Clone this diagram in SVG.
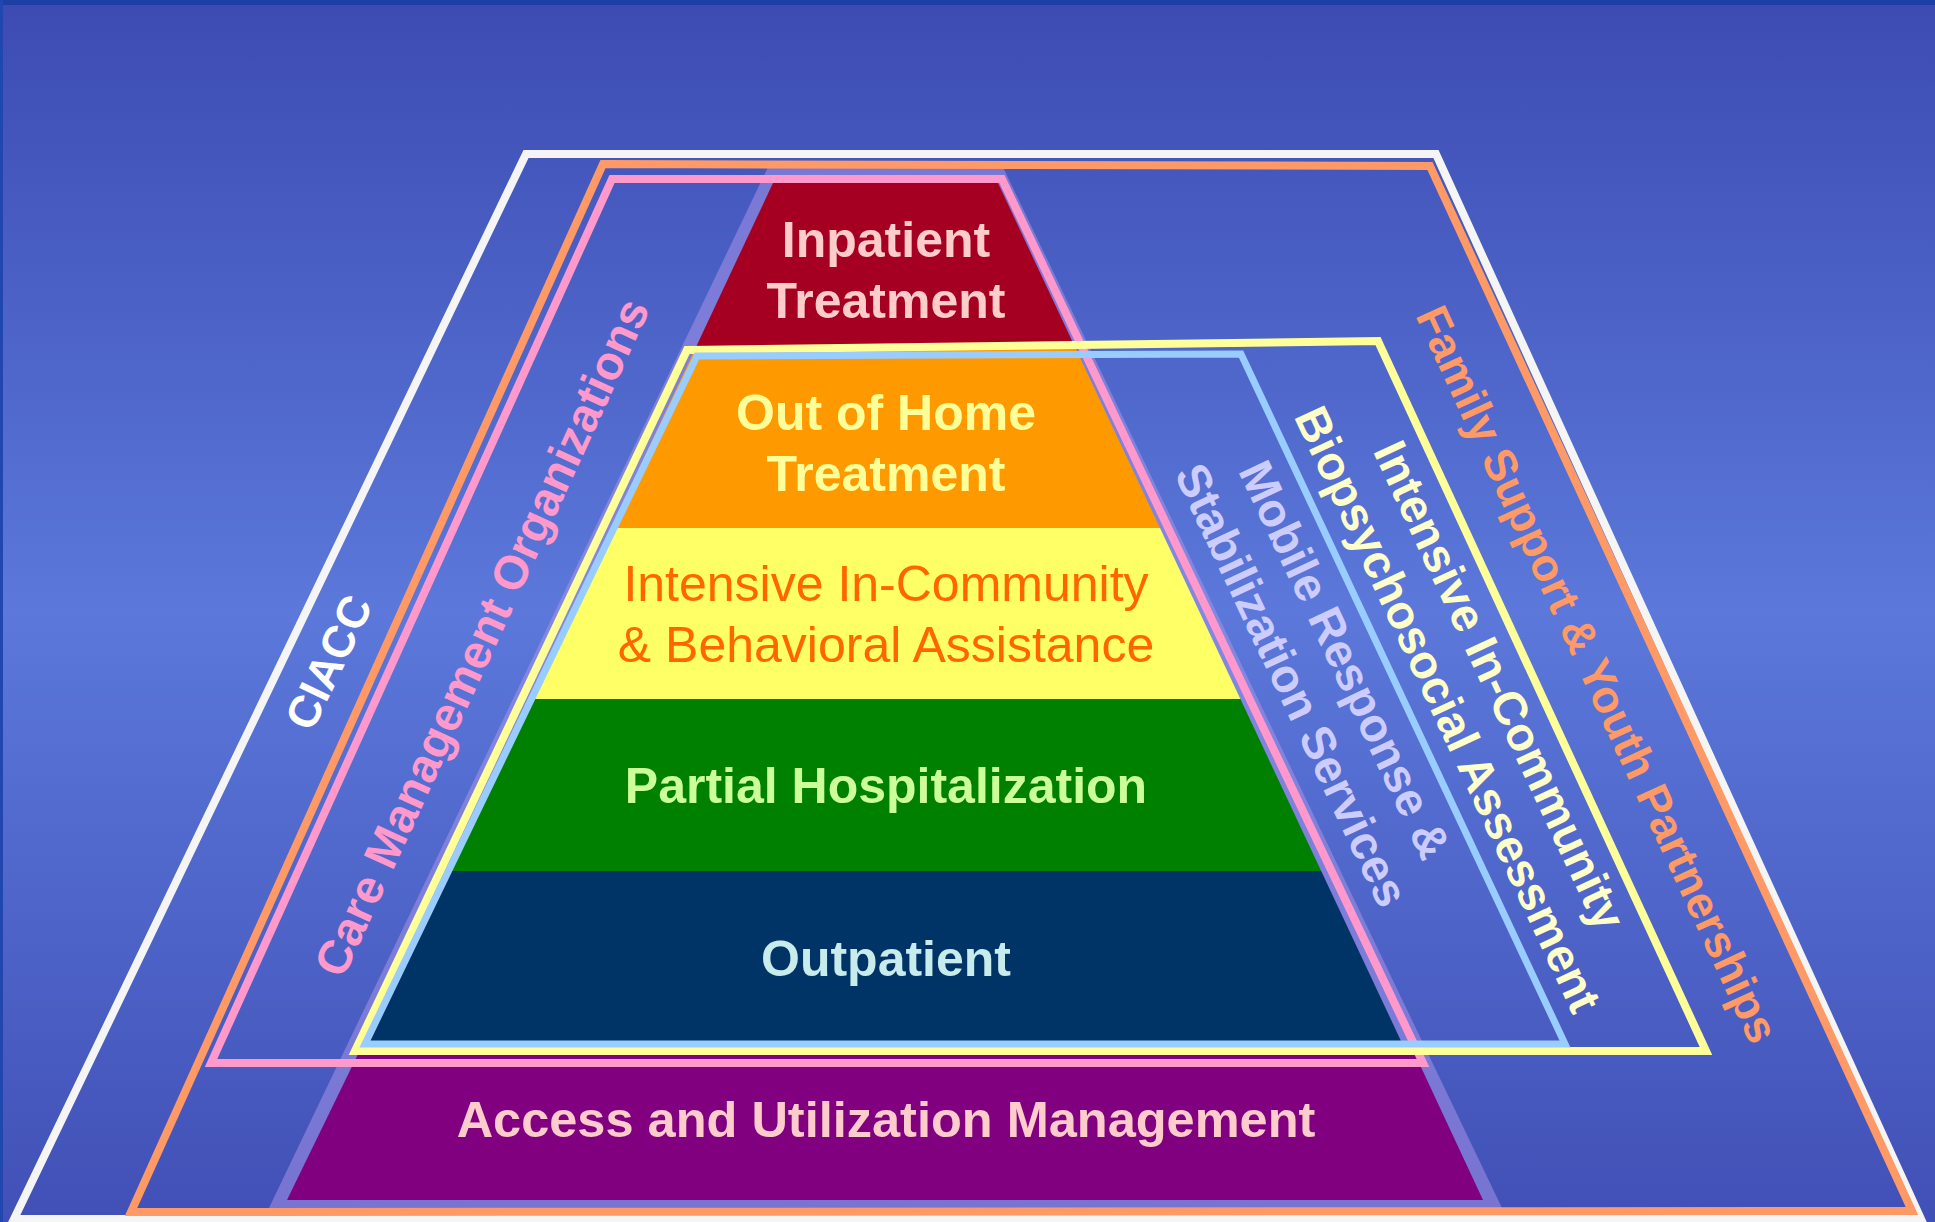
<svg xmlns="http://www.w3.org/2000/svg" width="1935" height="1222" viewBox="0 0 1935 1222">
  <defs>
    <linearGradient id="bg" x1="0" y1="0" x2="0" y2="1">
      <stop offset="0" stop-color="#3c4bb2"/>
      <stop offset="0.5" stop-color="#5b78da"/>
      <stop offset="1" stop-color="#4150b6"/>
    </linearGradient>
    <style>
      .frame { fill: none; stroke-width: 8; stroke-linejoin: miter; }
      .lbl { font-family: "Liberation Sans", Arial, sans-serif; font-weight: bold; font-size: 50px; text-anchor: middle; }
      .rot { font-family: "Liberation Sans", Arial, sans-serif; font-weight: bold; font-size: 47px; text-anchor: middle; }
    </style>
  </defs>

  <rect x="0" y="0" width="1935" height="1222" fill="url(#bg)"/>
  <rect x="0" y="0" width="1935" height="5" fill="#1c3fa6"/>
  <rect x="0" y="0" width="3" height="1222" fill="#2046b0"/>

  <!-- pyramid backdrop band -->
  <polygon points="769.5,164 1001.5,164 1503,1210 268,1210" fill="#ad98eb" opacity="0.5"/>

  <g id="inpatient">
    <polygon points="774.4,180 996.6,180 1075,347 696,347" fill="#a50021"/>
    <text class="lbl" x="886" y="257" fill="#ffcccc">Inpatient</text>
    <text class="lbl" x="886" y="318" fill="#ffcccc">Treatment</text>
  </g>
  <g id="out-of-home">
    <polygon points="696,347 1075,347 1160,528 611,528" fill="#ff9900"/>
    <text class="lbl" x="886" y="430" fill="#ffff99">Out of Home</text>
    <text class="lbl" x="886" y="491" fill="#ffff99">Treatment</text>
  </g>
  <g id="intensive-behavioral">
    <polygon points="611,528 1160,528 1240.4,699 530.6,699" fill="#ffff66"/>
    <text class="lbl" x="886" y="601" fill="#ff6600" style="font-weight:normal">Intensive In-Community</text>
    <text class="lbl" x="886" y="662" fill="#ff6600" style="font-weight:normal">&amp; Behavioral Assistance</text>
  </g>
  <g id="partial-hospitalization">
    <polygon points="530.6,699 1240.4,699 1321.2,871 449.8,871" fill="#008000"/>
    <text class="lbl" x="886" y="803" fill="#ccff99">Partial Hospitalization</text>
  </g>
  <g id="outpatient">
    <polygon points="449.8,871 1321.2,871 1401,1041 370,1041" fill="#003366"/>
    <text class="lbl" x="886" y="976" fill="#c8ecec">Outpatient</text>
  </g>
  <g id="access">
    <polygon points="360,1050 1413,1050 1483,1200 287,1200" fill="#800080"/>
    <text class="lbl" x="886" y="1137" fill="#ffcccc" style="font-size:50.5px">Access and Utilization Management</text>
  </g>

  <g id="ciacc">
    <polygon class="frame" points="526,154 1436,154 1921,1219 14,1219" stroke="#f5f5f5"/>
    <text class="rot" transform="translate(328,662) rotate(-64.3)" dy="0.36em" fill="#ffffff" style="font-size:45px">CIACC</text>
  </g>
  <g id="family-support">
    <polygon class="frame" points="603,164 1430,166 1912,1211 131,1212" stroke="#ff9966"/>
    <text class="rot" transform="translate(1598,674) rotate(65.3)" dy="0.36em" fill="#ff9966" style="font-size:45.5px">Family Support &amp; Youth Partnerships</text>
  </g>
  <g id="care-management">
    <polygon class="frame" points="612,179 1002,179 1423,1063 211,1063" stroke="#ff99cc"/>
    <text class="rot" transform="translate(481,637) rotate(-65.4)" dy="0.36em" fill="#ff99cc" style="font-size:47.5px">Care Management Organizations</text>
  </g>
  <g id="biopsychosocial">
    <polygon class="frame" points="687,350 1378,341 1706,1051 355,1051" stroke="#ffff99"/>
    <g transform="translate(1474.5,697) rotate(65)">
      <text class="rot" x="0" y="-28.5" dy="0.36em" fill="#ffffcc">Intensive In-Community</text>
      <text class="rot" x="0" y="28.5" dy="0.36em" fill="#ffffcc">Biopsychosocial Assessment</text>
    </g>
  </g>
  <g id="mobile-response">
    <polygon class="frame" points="697,356 1241,354 1565,1044 365,1044" stroke="#99ccff" style="stroke-width:7"/>
    <g transform="translate(1319,672) rotate(64.7)">
      <text class="rot" x="0" y="-29.5" dy="0.36em" fill="#ccccff">Mobile Response &amp;</text>
      <text class="rot" x="0" y="29.5" dy="0.36em" fill="#ccccff">Stabilization Services</text>
    </g>
  </g>
  <g id="connectors"></g>
</svg>
